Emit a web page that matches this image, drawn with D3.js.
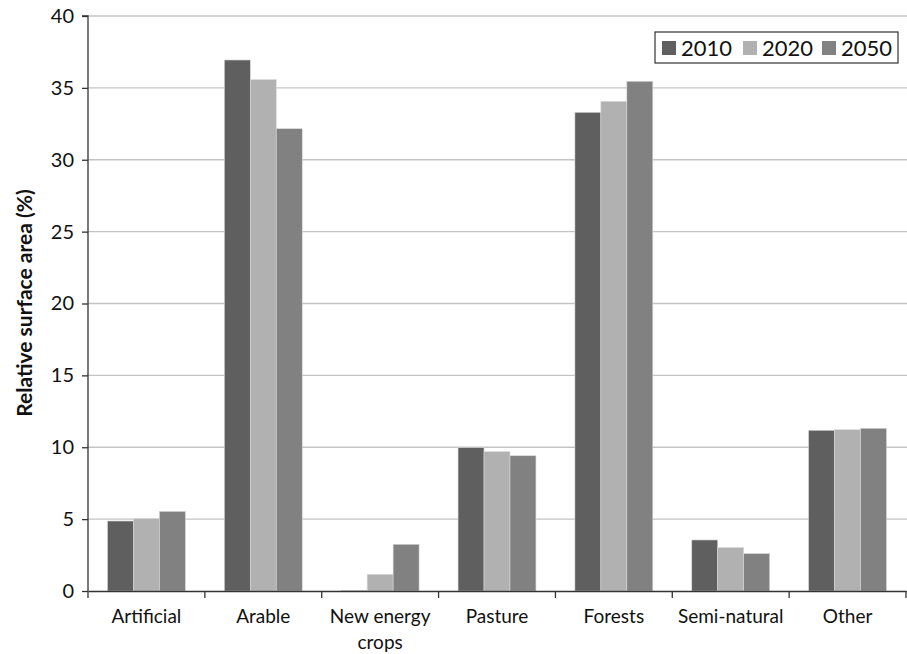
<!DOCTYPE html>
<html><head><meta charset="utf-8">
<script src="https://cdn.jsdelivr.net/npm/d3@7"></script>
<style>body{margin:0;background:#fff}svg{display:block}text{font-family:Lato,"Open Sans",sans-serif;fill:#111}</style>
</head><body><svg id="c" width="907" height="654"></svg>
<script>
const categories = ["Artificial","Arable","New energy crops","Pasture","Forests","Semi-natural","Other"];
const years = ["2010","2020","2050"];
const v2010 = [4.87,36.94,0.05,9.97,33.30,3.55,11.18];
const v2020 = [5.03,35.57,1.16,9.69,34.06,3.02,11.22];
const v2050 = [5.54,32.16,3.25,9.41,35.46,2.60,11.32];
const yTicks = [0,5,10,15,20,25,30,35,40];
const colors = ["#5f5f5f","#b1b1b1","#818181"];
const series = [v2010,v2020,v2050];

const svg = d3.select("#c");
const L=88, R=906, T=16, B=591;
const x = d3.scaleBand().domain(categories).range([L,R]).paddingInner(0).paddingOuter(0);
const xi = d3.scaleBand().domain(years).range([0,x.bandwidth()]).paddingInner(0).paddingOuter(0.75);
const y = d3.scaleLinear().domain([0,40]).range([B,T]);

// gridlines
svg.append("g").selectAll("line").data(yTicks.filter(d=>d>0)).join("line")
  .attr("x1",L).attr("x2",R+1).attr("y1",d=>y(d)).attr("y2",d=>y(d))
  .attr("stroke","#c4c4c4").attr("stroke-width",1.3);

// bars
const g = svg.append("g");
categories.forEach((c,ci)=>{
  years.forEach((yr,si)=>{
    const v = series[si][ci];
    g.append("rect").attr("x",x(c)+xi(yr)).attr("width",xi.bandwidth())
      .attr("y",y(v)).attr("height",B-y(v))
      .attr("fill",colors[si]).attr("stroke","#d8d8d8").attr("stroke-width",0.6);
  });
});

// y axis
const ya = svg.append("g").attr("transform",`translate(${L},0)`)
  .call(d3.axisLeft(y).tickValues(yTicks).tickSize(6).tickPadding(8));
ya.select(".domain").attr("stroke","#333").attr("stroke-width",1.3);
ya.selectAll(".tick line").attr("stroke","#333").attr("stroke-width",1.3);
ya.selectAll("text").style("font-size","20px").style("font-family","Lato, 'Open Sans', sans-serif").attr("fill","#111");
ya.select(".domain").attr("d",`M-6,${T}H0V${B}`);

// x axis
const xa = svg.append("g").attr("transform",`translate(0,${B})`)
  .call(d3.axisBottom(x).tickSize(0).tickFormat(""));
xa.select(".domain").attr("stroke","#333").attr("stroke-width",1.3);
xa.selectAll(".tick").remove();
svg.append("g").selectAll("line").data(categories.map(c=>x(c)).concat([x(categories[categories.length-1])+x.bandwidth()])).join("line")
  .attr("x1",d=>d).attr("x2",d=>d).attr("y1",B).attr("y2",B+7).attr("stroke","#333").attr("stroke-width",1.3);

const labels = svg.append("g");
categories.forEach(c=>{
  const words = c==="New energy crops" ? ["New energy","crops"] : [c];
  const t = labels.append("text").attr("x",x(c)+x.bandwidth()/2).attr("y",623)
    .attr("text-anchor","middle").style("font-size","19px");
  words.forEach((w,i)=>t.append("tspan").attr("x",x(c)+x.bandwidth()/2).attr("dy",i?26:0).text(w));
});

// y title
svg.append("text").attr("transform","translate(32,303) rotate(-90)").attr("text-anchor","middle")
  .style("font-size","21px").style("font-weight","bold").text("Relative surface area (%)");

// legend
const lg = svg.append("g");
lg.append("rect").attr("x",655).attr("y",32).attr("width",243).attr("height",31)
  .attr("fill","#fff").attr("stroke","#333").attr("stroke-width",1.2);
const lx = [662,743,822];
years.forEach((yr,i)=>{
  lg.append("rect").attr("x",lx[i]).attr("y",41).attr("width",14).attr("height",14).attr("fill",colors[i]);
  lg.append("text").attr("x",lx[i]+19).attr("y",56).style("font-size","22px").text(yr);
});
</script></body></html>
